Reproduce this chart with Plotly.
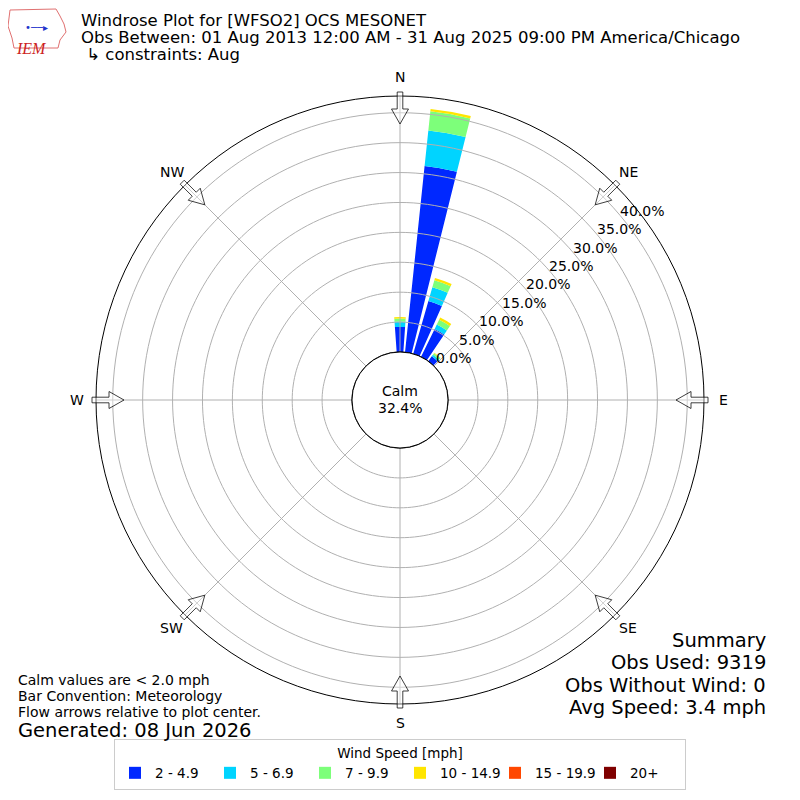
import math
import plotly.graph_objects as go

# --- data ---
directions = [0, 10, 20, 30, 40]  # degrees (compass)
speed_bins = ["2 - 4.9", "5 - 6.9", "7 - 9.9", "10 - 14.9", "15 - 19.9", "20+"]
bin_colors = ["#0028ff", "#00d4ff", "#7dff7a", "#ffe500", "#ff4700", "#7f0000"]
pct_2_5 = [4.2, 31.3, 9.2, 5.2, 1.0]
pct_5_7 = [0.9, 6.0, 2.4, 0.8, 0.35]
pct_7_10 = [0.5, 3.2, 1.2, 0.9, 0.3]
pct_10_15 = [0.25, 0.4, 0.4, 0.4, 0.1]
pct_15_20 = [0, 0, 0, 0, 0]
pct_20p = [0, 0, 0, 0, 0]
calm_pct = 32.4

ring_ticks = [0, 5, 10, 15, 20, 25, 30, 35, 40]
compass_vals = [0, 45, 90, 135, 180, 225, 270, 315]
compass_text = ["N", "NE", "E", "SE", "S", "SW", "W", "NW"]

summary_lines = ["Summary", "Obs Used: 9319", "Obs Without Wind: 0", "Avg Speed: 3.4 mph"]
notes_lines = ["Calm values are < 2.0 mph", "Bar Convention: Meteorology",
               "Flow arrows relative to plot center."]
title_lines = ["Windrose Plot for [WFSO2] OCS MESONET",
               "Obs Between: 01 Aug 2013 12:00 AM - 31 Aug 2025 09:00 PM America/Chicago",
               " \u21b3 constraints: Aug"]

RMAX = 42.8
FONT = "DejaVu Sans"
W = H = 800
OFF = 8  # page body margin shifts the figure
CX = CY = 400 - OFF
R_OUT = 304
R_HOLE = 48
PX_PER_PCT = (R_OUT - R_HOLE) / RMAX


def px(x):
    return (x - OFF) / W


def py(y):
    return 1 - (y - OFF) / H


def polar_paper(r_px, deg):
    a = math.radians(deg)
    return px(400 + r_px * math.sin(a)), py(400 - r_px * math.cos(a))


fig = go.Figure()

series = [pct_2_5, pct_5_7, pct_7_10, pct_10_15, pct_15_20, pct_20p]
for name, color, vals in zip(speed_bins, bin_colors, series):
    fig.add_trace(go.Barpolar(
        r=vals, theta=directions, width=8, name=name,
        marker=dict(color=color, line=dict(width=0)),
        hoverinfo="skip",
    ))

# grid drawn on top of the bars, like matplotlib does
circle_theta = list(range(0, 361, 2))
for t in ring_ticks[1:]:
    fig.add_trace(go.Scatterpolar(
        r=[t] * len(circle_theta), theta=circle_theta, mode="lines",
        line=dict(color="#b0b0b0", width=1), showlegend=False, hoverinfo="skip"))
for a in compass_vals:
    fig.add_trace(go.Scatterpolar(
        r=[0, RMAX], theta=[a, a], mode="lines",
        line=dict(color="#b0b0b0", width=1), showlegend=False, hoverinfo="skip"))
# calm circle
fig.add_trace(go.Scatterpolar(
    r=[0] * len(circle_theta), theta=circle_theta, mode="lines", cliponaxis=False,
    line=dict(color="black", width=1), showlegend=False, hoverinfo="skip"))

fig.update_layout(
    width=W, height=H,
    margin=dict(l=0, r=0, t=0, b=0),
    paper_bgcolor="white",
    font=dict(family=FONT, size=14, color="black"),
    polar=dict(
        domain=dict(x=[(CX - R_OUT) / W, (CX + R_OUT) / W],
                    y=[1 - (CY + R_OUT) / H, 1 - (CY - R_OUT) / H]),
        bgcolor="white",
        hole=R_HOLE / R_OUT,
        barmode="stack",
        radialaxis=dict(range=[0, RMAX], showgrid=False, showline=False, ticks="",
                        showticklabels=False),
        angularaxis=dict(direction="clockwise", rotation=90,
                         tickvals=compass_vals, showticklabels=False,
                         showgrid=False, showline=True, linecolor="black",
                         linewidth=1, ticks=""),
    ),
    legend=dict(orientation="h", x=px(400), xanchor="center", y=py(790), yanchor="bottom",
                bordercolor="#cccccc", borderwidth=1, font=dict(size=13.5),
                title=dict(text="Wind Speed [mph]", side="top center",
                           font=dict(size=13.5)),
                entrywidth=50, traceorder="normal"),
    showlegend=True,
)

# radial labels, a bit outside each ring at ~52 deg
for t in ring_ticks:
    x, y = polar_paper(R_HOLE + t * PX_PER_PCT + 20, 52)
    fig.add_annotation(x=x, y=y, xref="paper", yref="paper", text=f"{t:.1f}%",
                       showarrow=False, xanchor="center", yanchor="middle",
                       font=dict(size=14))
# compass labels
for a, lab in zip(compass_vals, compass_text):
    x, y = polar_paper(323, a)
    fig.add_annotation(x=x, y=y, xref="paper", yref="paper", text=lab,
                       showarrow=False, xanchor="center", yanchor="middle",
                       font=dict(size=14))

# title
for i, txt in enumerate(title_lines):
    fig.add_annotation(x=px(79), y=py(20 + 17.5 * i), xref="paper", yref="paper",
                       text=txt, showarrow=False, xanchor="left", yanchor="middle",
                       font=dict(size=16.5))

# calm label
fig.add_annotation(x=px(400), y=py(391), xref="paper", yref="paper", text="Calm",
                   showarrow=False, font=dict(size=14), xanchor="center",
                   yanchor="middle")
fig.add_annotation(x=px(400), y=py(408), xref="paper", yref="paper",
                   text=f"{calm_pct:.1f}%", showarrow=False, font=dict(size=14),
                   xanchor="center", yanchor="middle")

# summary block
for i, txt in enumerate(summary_lines):
    fig.add_annotation(x=px(768), y=py(640 + 22.5 * i), xref="paper", yref="paper",
                       text=txt, showarrow=False, xanchor="right", yanchor="middle",
                       font=dict(size=19.5))

# notes block
for i, txt in enumerate(notes_lines):
    fig.add_annotation(x=px(16), y=py(680 + 16 * i), xref="paper", yref="paper",
                       text=txt, showarrow=False, xanchor="left", yanchor="middle",
                       font=dict(size=14))
fig.add_annotation(x=px(16), y=py(730), xref="paper", yref="paper",
                   text="Generated: 08 Jun 2026", showarrow=False, xanchor="left",
                   yanchor="middle", font=dict(size=19.5))


# hollow flow arrows at the outer ring
def arrow_path(compass_deg):
    a = math.radians(compass_deg)
    pts = [(308, -2.8), (291, -2.8), (291, -8.5), (276, 0), (291, 8.5), (291, 2.8),
           (308, 2.8)]
    out = []
    for r, v in pts:
        x = CX + r * math.sin(a) + v * math.cos(a)
        y = CY - r * math.cos(a) + v * math.sin(a)
        out.append(f"{x / W:.5f},{1 - y / H:.5f}")
    return "M" + " L".join(out) + " Z"


for a in compass_vals:
    fig.add_shape(type="path", path=arrow_path(a), xref="paper", yref="paper",
                  line=dict(color="rgba(0,0,0,0.75)", width=1),
                  fillcolor="rgba(255,255,255,0.4)", layer="above")

# rough IEM logo
iowa = [(10, 10), (56, 9), (60, 16), (64, 24), (66, 32), (60, 40), (58, 48),
        (14, 48), (12, 38), (8, 26), (10, 10)]
fig.add_shape(type="path", xref="paper", yref="paper",
              path="M" + " L".join(f"{px(x):.5f},{py(y):.5f}" for x, y in iowa) + " Z",
              line=dict(color="#e07070", width=1))
fig.add_annotation(x=px(31), y=py(38), xref="paper", yref="paper",
                   text="<i>IEM</i>", showarrow=False, xanchor="center",
                   font=dict(family="Liberation Serif", size=16, color="#cc2222"))
fig.add_annotation(x=px(36), y=py(20), xref="paper", yref="paper",
                   text="\u2022\u2500\u2500\u25b8", showarrow=False, xanchor="center",
                   font=dict(size=10, color="#2233cc"))

fig.write_html("out.html")
